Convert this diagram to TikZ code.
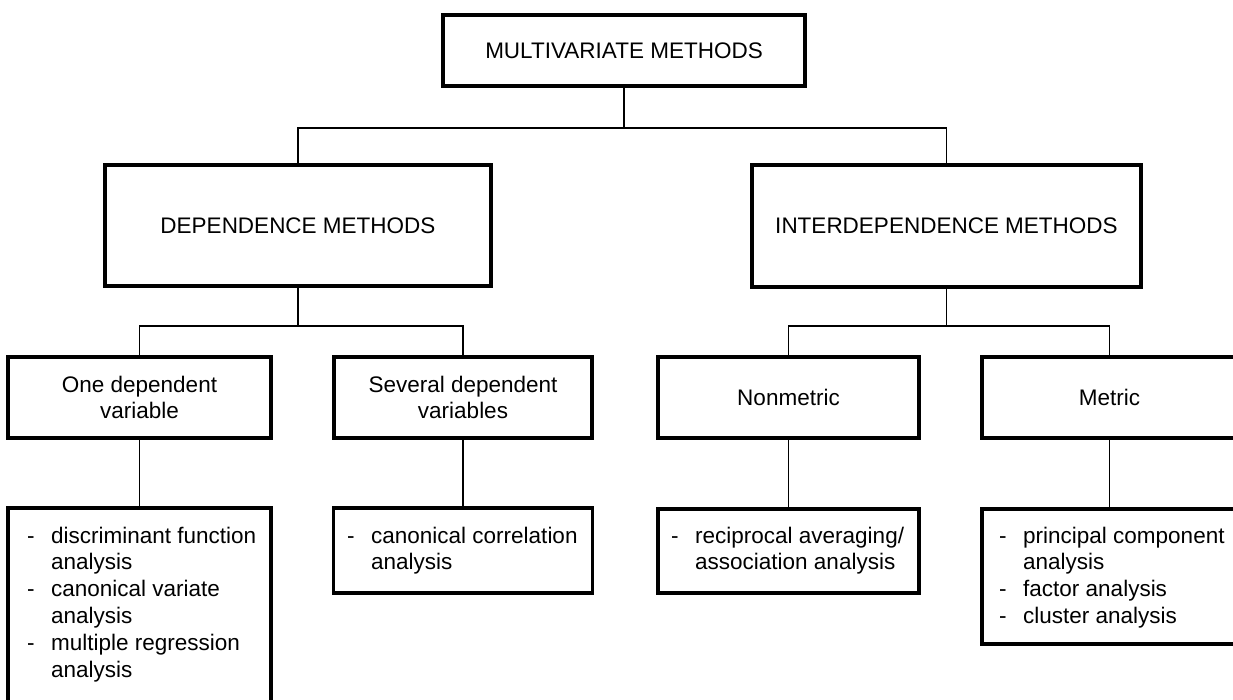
\documentclass[tikz,border=0pt]{standalone}
\usepackage{fontspec}
\setmainfont{Liberation Sans}
\begin{document}
\begin{tikzpicture}[x=1pt,y=-1pt,
  box/.style={draw, line width=3.2pt, inner sep=0pt, align=center,
    font=\fontsize{22.5}{26}\selectfont},
  conn/.style={line width=1.9pt, line join=miter},
  listtext/.style={anchor=base west, inner sep=0pt,
    font=\fontsize{22.5}{26.8}\selectfont}]
\useasboundingbox (0,0) rectangle (1233,699);
% level 1
\node[box, minimum width=362pt, minimum height=71pt] (top) at (624,50.5) {MULTIVARIATE METHODS};
% level 2
\node[box, minimum width=386pt, minimum height=121pt] (dep) at (298,225.5) {DEPENDENCE METHODS};
\node[box, minimum width=389pt, minimum height=122pt] (inter) at (946.5,226) {INTERDEPENDENCE METHODS};
% level 3
\node[box, minimum width=263pt, minimum height=81pt] (one) at (139.5,397.5) {One dependent\\variable};
\node[box, minimum width=258pt, minimum height=81pt] (sev) at (463,397.5) {Several dependent\\variables};
\node[box, minimum width=261pt, minimum height=81pt] (non) at (788.5,397.5) {Nonmetric};
\node[box, minimum width=255pt, minimum height=81pt] (met) at (1109.5,397.5) {Metric};
% level 4 boxes
\node[box, minimum width=263pt, minimum height=212pt] (onel) at (139.5,614) {};
\node[box, minimum width=259pt, minimum height=85pt] (sevl) at (463,550.5) {};
\node[box, minimum width=261pt, minimum height=84pt] (nonl) at (788.5,551) {};
\node[box, minimum width=255pt, minimum height=135pt] (metl) at (1109.5,576.5) {};
% level 4 texts
\node[listtext] (onelt) at (27,543) {\begin{tabular}[t]{@{}p{24pt}@{}l@{}}
-& discriminant function\\ & analysis\\ -& canonical variate\\ & analysis\\ -& multiple regression\\ & analysis\end{tabular}};
\node[listtext] (sevlt) at (347,543) {\begin{tabular}[t]{@{}p{24pt}@{}l@{}}
-& canonical correlation\\ & analysis\end{tabular}};
\node[listtext] (nonlt) at (671,543) {\begin{tabular}[t]{@{}p{24pt}@{}l@{}}
-& reciprocal averaging/\\ & association analysis\end{tabular}};
\node[listtext] (metlt) at (999,543) {\begin{tabular}[t]{@{}p{24pt}@{}l@{}}
-& principal component\\ & analysis\\ -& factor analysis\\ -& cluster analysis\end{tabular}};
% junctions
\coordinate (j1) at (624,128);
\coordinate (j2) at (298,326);
\coordinate (j3) at (946.5,326);
% connectors
\draw[conn] (top.south) -- (j1);
\draw[conn] (dep.north) |- (j1) -| (inter.north);
\draw[conn] (dep.south) -- (j2);
\draw[conn] (one.north) |- (j2) -| (sev.north);
\draw[conn] (inter.south) -- (j3);
\draw[conn] (non.north) |- (j3) -| (met.north);
\draw[conn] (one.south) -- (onel.north);
\draw[conn] (sev.south) -- (sevl.north);
\draw[conn] (non.south) -- (nonl.north);
\draw[conn] (met.south) -- (metl.north);
\end{tikzpicture}
\end{document}
